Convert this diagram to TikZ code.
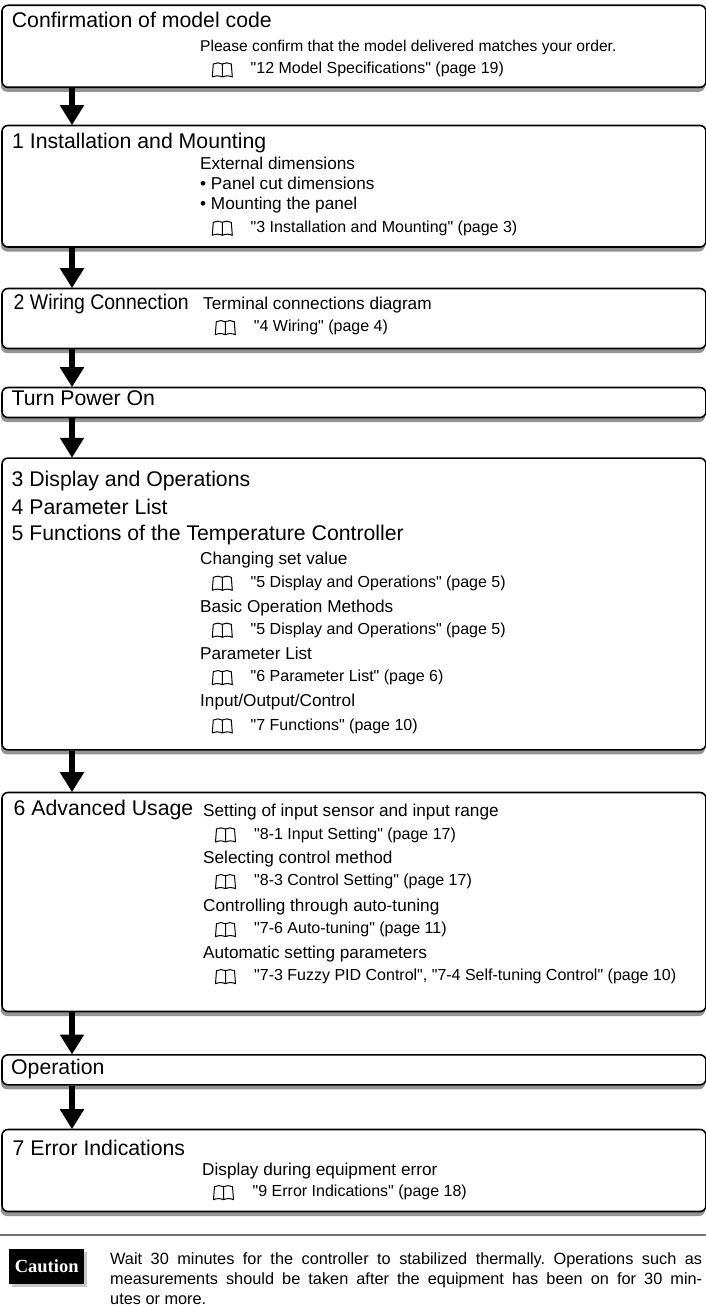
\documentclass[tikz,border=0pt]{standalone}
\usepackage{fontspec}
\newfontfamily\helv{Liberation Sans}
\newfontfamily\helvn[FakeStretch=0.915]{Liberation Sans}
\newfontfamily\capfont{Liberation Serif}
\usetikzlibrary{arrows.meta,shadows,calc}
\tikzset{
  flowbox/.style={draw=black,line width=1.6pt,rounded corners=6pt,fill=white,anchor=north west,minimum width=704pt,inner sep=0pt,
    general shadow={fill=black!42,shadow xshift=-1pt,shadow yshift=-4.5pt}},
  flowarrow/.style={line width=5.5pt,-{Triangle[width=23pt,length=20pt]},shorten >=-0.5pt},
  title/.style={anchor=base west,inner sep=0pt,font=\helv\fontsize{21.25}{25}\selectfont},
  titlen/.style={anchor=base west,inner sep=0pt,font=\helvn\fontsize{21.25}{25}\selectfont},
  body/.style={anchor=base west,inner sep=0pt,font=\helv\fontsize{17.2}{20}\selectfont},
  bodyt/.style={anchor=base west,inner sep=0pt,font=\helv\fontsize{15.6}{19}\selectfont},
  refer/.style={anchor=base west,inner sep=0pt,font=\helv\fontsize{16}{19}\selectfont},
  bookline/.style={line width=1pt,line join=round},
  note/.style={anchor=north west,inner sep=0pt,align=justify,text width=592pt,font=\helv\fontsize{16.3}{20}\selectfont\frenchspacing}
}
\newcommand{\bookat}[2]{%
  \draw[bookline] (#1-10,#2+3) .. controls (#1-7,#2+1.5) and (#1-3,#2+1.5) .. (#1,#2+3)
    .. controls (#1+3,#2+1.5) and (#1+7,#2+1.5) .. (#1+10,#2+3)
    -- (#1+9,#2-10) .. controls (#1+6,#2-11.5) and (#1+3,#2-11.5) .. (#1,#2-10)
    .. controls (#1-3,#2-11.5) and (#1-6,#2-11.5) .. (#1-9,#2-10) -- cycle
    (#1,#2-10) -- (#1,#2+3);}
\begin{document}
\begin{tikzpicture}[x=1pt,y=-1pt]
\useasboundingbox (0,0) rectangle (706,1308);
\coordinate (ax) at (72,0);
\node[flowbox,minimum height=82pt] (b1) at (1.2,4.5) {};
\node[flowbox,minimum height=121.5pt] (b2) at (1.2,124.7) {};
\node[flowbox,minimum height=60pt] (b3) at (1.2,287.7) {};
\node[flowbox,minimum height=30pt] (b4) at (1.2,386.7) {};
\node[flowbox,minimum height=291.7pt] (b5) at (1.2,457.3) {};
\node[flowbox,minimum height=219pt] (b6) at (1.2,791.7) {};
\node[flowbox,minimum height=30pt] (b7) at (1.2,1054) {};
\node[flowbox,minimum height=82pt] (b8) at (1.2,1128.7) {};
\foreach \a/\b in {b1/b2,b2/b3,b3/b4,b4/b5,b5/b6,b6/b7,b7/b8}
  \draw[flowarrow] (\a.south -| ax) -- (\b.north -| ax);

\node[title] (t1) at (11.7,27.3) {Confirmation of model code};
\node[bodyt] (t1a) at (200,51.7) {Please confirm that the model delivered matches your order.};
\node[refer] (t1b) at (250.5,74) {"12 Model Specifications" (page 19)};
\bookat{222.3}{74}

\node[title] (t2) at (12,149) {1 Installation and Mounting};
\node[body] (t2a) at (200,169.3) {External dimensions};
\node[body] (t2b) at (200,189.3) {• Panel cut dimensions};
\node[body] (t2c) at (200,209.3) {• Mounting the panel};
\node[refer] (t2d) at (250.5,232.3) {"3 Installation and Mounting" (page 3)};
\bookat{222.3}{232.3}

\node[titlen] (t3) at (13.5,309) {2 Wiring Connection};
\node[body] (t3a) at (203,309.3) {Terminal connections diagram};
\node[refer] (t3b) at (253.7,331.7) {"4 Wiring" (page 4)};
\bookat{225.3}{331.7}

\node[title] (t4) at (11.5,405.7) {Turn Power On};

\node[title] (t5) at (11.5,486.7) {3 Display and Operations};
\node[title] (t5a) at (11.5,514) {4 Parameter List};
\node[title] (t5b) at (11.5,540) {5 Functions of the Temperature Controller};
\node[body] (t5c) at (200,564) {Changing set value};
\node[refer] (t5d) at (250.5,587.3) {"5 Display and Operations" (page 5)};
\bookat{222.3}{587.3}
\node[body] (t5e) at (200,612) {Basic Operation Methods};
\node[refer] (t5f) at (250.5,634.3) {"5 Display and Operations" (page 5)};
\bookat{222.3}{634.3}
\node[body] (t5g) at (200,659) {Parameter List};
\node[refer] (t5h) at (250.5,681.7) {"6 Parameter List" (page 6)};
\bookat{222.3}{681.7}
\node[body] (t5i) at (200,706) {Input/Output/Control};
\node[refer] (t5j) at (250.5,730) {"7 Functions" (page 10)};
\bookat{222.3}{730}

\node[title] (t6) at (13.5,815.7) {6 Advanced Usage};
\node[body] (t6a) at (203,816) {Setting of input sensor and input range};
\node[refer] (t6b) at (254,839) {"8-1 Input Setting" (page 17)};
\bookat{225.5}{839}
\node[body] (t6c) at (203,863.3) {Selecting control method};
\node[refer] (t6d) at (254,885.7) {"8-3 Control Setting" (page 17)};
\bookat{225.5}{885.7}
\node[body] (t6e) at (203,911.7) {Controlling through auto-tuning};
\node[refer] (t6f) at (254,933.7) {"7-6 Auto-tuning" (page 11)};
\bookat{225.5}{933.7}
\node[body] (t6g) at (203,958.3) {Automatic setting parameters};
\node[refer] (t6h) at (254,980.7) {"7-3 Fuzzy PID Control", "7-4 Self-tuning Control" (page 10)};
\bookat{225.5}{980.7}

\node[title] (t7) at (11,1074) {Operation};

\node[title] (t8) at (12.5,1155) {7 Error Indications};
\node[body] (t8a) at (202,1175) {Display during equipment error};
\node[refer] (t8b) at (252.5,1196.7) {"9 Error Indications" (page 18)};
\bookat{223.5}{1196.7}

\draw[line width=1.6pt,black!55] (0,1235) -- (706,1235);
\fill[black!22] (12,1252) rectangle (87,1287);
\node[anchor=north west,fill=black,text=white,minimum width=75pt,minimum height=34.7pt,inner sep=0pt,font=\capfont\bfseries\fontsize{18.5}{22}\selectfont] (cau) at (9,1249) {Caution};
\node[note] (n) at (110,1252) {Wait 30 minutes for the controller to stabilized thermally. Operations such as\linebreak measurements should be taken after the equipment has been on for 30 min-\linebreak utes or more.};
\end{tikzpicture}
\end{document}
